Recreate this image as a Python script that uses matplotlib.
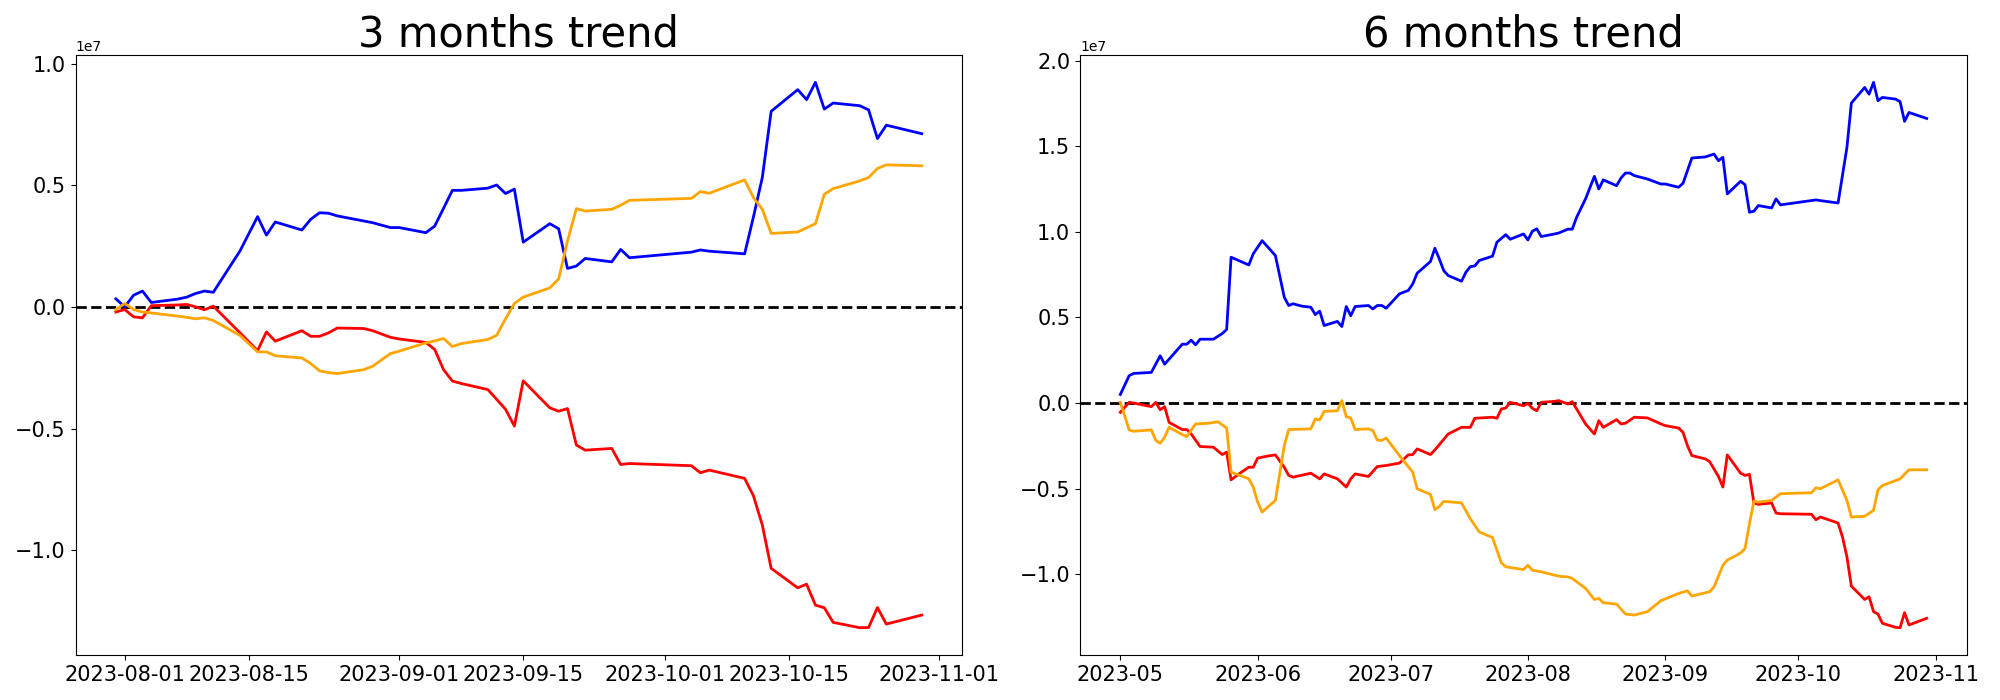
import matplotlib
matplotlib.use("Agg")
import matplotlib.pyplot as plt
import pandas as pd

SCALE = 1e7

# ---- 3 months trend: (date, value in units of 1e7) ----
BLUE_3M = [("2023-07-31", 0.033), ("2023-08-01", 0.0), ("2023-08-02", 0.048), ("2023-08-03", 0.065),
           ("2023-08-04", 0.018), ("2023-08-07", 0.032), ("2023-08-08", 0.040), ("2023-08-09", 0.055),
           ("2023-08-10", 0.065), ("2023-08-11", 0.060), ("2023-08-14", 0.229), ("2023-08-16", 0.371),
           ("2023-08-17", 0.295), ("2023-08-18", 0.349), ("2023-08-21", 0.316), ("2023-08-22", 0.360),
           ("2023-08-23", 0.387), ("2023-08-24", 0.385), ("2023-08-25", 0.374), ("2023-08-28", 0.353),
           ("2023-08-29", 0.346), ("2023-08-31", 0.326), ("2023-09-01", 0.326), ("2023-09-04", 0.305),
           ("2023-09-05", 0.332), ("2023-09-06", 0.405), ("2023-09-07", 0.479), ("2023-09-08", 0.479),
           ("2023-09-11", 0.488), ("2023-09-12", 0.501), ("2023-09-13", 0.466), ("2023-09-14", 0.484),
           ("2023-09-15", 0.266), ("2023-09-18", 0.342), ("2023-09-19", 0.321), ("2023-09-20", 0.158),
           ("2023-09-21", 0.168), ("2023-09-22", 0.199), ("2023-09-25", 0.185), ("2023-09-26", 0.236),
           ("2023-09-27", 0.202), ("2023-10-04", 0.225), ("2023-10-05", 0.234), ("2023-10-06", 0.229),
           ("2023-10-10", 0.218), ("2023-10-11", 0.370), ("2023-10-12", 0.532), ("2023-10-13", 0.804),
           ("2023-10-16", 0.893), ("2023-10-17", 0.852), ("2023-10-18", 0.923), ("2023-10-19", 0.813),
           ("2023-10-20", 0.838), ("2023-10-23", 0.827), ("2023-10-24", 0.810), ("2023-10-25", 0.692),
           ("2023-10-26", 0.747), ("2023-10-30", 0.712)]

RED_3M = [("2023-07-31", -0.021), ("2023-08-01", -0.011), ("2023-08-02", -0.041), ("2023-08-03", -0.045),
          ("2023-08-04", 0.005), ("2023-08-07", 0.008), ("2023-08-08", 0.010), ("2023-08-09", 0.0),
          ("2023-08-10", -0.012), ("2023-08-11", 0.003), ("2023-08-14", -0.106), ("2023-08-16", -0.180),
          ("2023-08-17", -0.103), ("2023-08-18", -0.141), ("2023-08-21", -0.098), ("2023-08-22", -0.121),
          ("2023-08-23", -0.121), ("2023-08-24", -0.107), ("2023-08-25", -0.087), ("2023-08-28", -0.089),
          ("2023-08-29", -0.098), ("2023-08-31", -0.125), ("2023-09-01", -0.132), ("2023-09-04", -0.146),
          ("2023-09-05", -0.175), ("2023-09-06", -0.258), ("2023-09-07", -0.305), ("2023-09-08", -0.315),
          ("2023-09-11", -0.340), ("2023-09-12", -0.380), ("2023-09-13", -0.421), ("2023-09-14", -0.490),
          ("2023-09-15", -0.304), ("2023-09-18", -0.415), ("2023-09-19", -0.429), ("2023-09-20", -0.418),
          ("2023-09-21", -0.568), ("2023-09-22", -0.589), ("2023-09-25", -0.582), ("2023-09-26", -0.648),
          ("2023-09-27", -0.644), ("2023-10-04", -0.653), ("2023-10-05", -0.682), ("2023-10-06", -0.671),
          ("2023-10-10", -0.705), ("2023-10-11", -0.777), ("2023-10-12", -0.897), ("2023-10-13", -1.075),
          ("2023-10-16", -1.155), ("2023-10-17", -1.140), ("2023-10-18", -1.226), ("2023-10-19", -1.237),
          ("2023-10-20", -1.297), ("2023-10-23", -1.319), ("2023-10-24", -1.318), ("2023-10-25", -1.236),
          ("2023-10-26", -1.304), ("2023-10-30", -1.267)]

ORANGE_3M = [("2023-07-31", -0.011), ("2023-08-01", 0.014), ("2023-08-02", -0.011), ("2023-08-03", -0.021),
             ("2023-08-04", -0.025), ("2023-08-07", -0.038), ("2023-08-08", -0.043), ("2023-08-09", -0.049),
             ("2023-08-10", -0.045), ("2023-08-11", -0.056), ("2023-08-14", -0.117), ("2023-08-16", -0.185),
             ("2023-08-17", -0.185), ("2023-08-18", -0.201), ("2023-08-21", -0.210), ("2023-08-22", -0.233),
             ("2023-08-23", -0.263), ("2023-08-24", -0.270), ("2023-08-25", -0.274), ("2023-08-28", -0.258),
             ("2023-08-29", -0.244), ("2023-08-31", -0.192), ("2023-09-01", -0.182), ("2023-09-04", -0.148),
             ("2023-09-05", -0.140), ("2023-09-06", -0.130), ("2023-09-07", -0.163), ("2023-09-08", -0.151),
             ("2023-09-11", -0.134), ("2023-09-12", -0.117), ("2023-09-13", -0.049), ("2023-09-14", 0.014),
             ("2023-09-15", 0.040), ("2023-09-18", 0.078), ("2023-09-19", 0.115), ("2023-09-20", 0.271),
             ("2023-09-21", 0.404), ("2023-09-22", 0.394), ("2023-09-25", 0.401), ("2023-09-26", 0.418),
             ("2023-09-27", 0.438), ("2023-10-04", 0.446), ("2023-10-05", 0.474), ("2023-10-06", 0.467),
             ("2023-10-10", 0.522), ("2023-10-11", 0.449), ("2023-10-12", 0.401), ("2023-10-13", 0.302),
             ("2023-10-16", 0.308), ("2023-10-17", 0.325), ("2023-10-18", 0.342), ("2023-10-19", 0.463),
             ("2023-10-20", 0.486), ("2023-10-23", 0.518), ("2023-10-24", 0.532), ("2023-10-25", 0.569),
             ("2023-10-26", 0.584), ("2023-10-30", 0.580)]

# ---- 6 months trend: (days since START_6M, value in units of 1e7) ----
START_6M = "2023-05-01"
BLUE_6M = [(0, 0.05), (2, 0.16), (3, 0.173), (7, 0.179), (9, 0.276), (10, 0.227), (14, 0.344), (15, 0.344),
           (16, 0.367), (17, 0.34), (18, 0.373), (21, 0.373), (23, 0.406), (24, 0.43), (25, 0.852), (29, 0.807),
           (30, 0.872), (32, 0.949), (35, 0.862), (37, 0.619), (38, 0.570), (39, 0.580), (41, 0.566), (43, 0.56),
           (44, 0.517), (45, 0.537), (46, 0.453), (49, 0.477), (50, 0.447), (51, 0.564), (52, 0.51), (53, 0.564),
           (56, 0.570), (57, 0.55), (58, 0.57), (59, 0.57), (60, 0.554), (63, 0.638), (65, 0.658), (66, 0.696),
           (67, 0.759), (70, 0.827), (71, 0.905), (72, 0.842), (73, 0.774), (74, 0.745), (77, 0.712), (78, 0.764),
           (79, 0.797), (80, 0.801), (81, 0.833), (84, 0.858), (85, 0.940), (87, 0.984), (88, 0.957), (91, 0.988),
           (92, 0.953), (93, 1.004), (94, 1.018), (95, 0.973), (98, 0.988), (99, 0.994), (101, 1.016), (102, 1.016),
           (103, 1.086), (105, 1.193), (107, 1.325), (108, 1.251), (109, 1.304), (112, 1.270), (113, 1.315),
           (114, 1.344), (115, 1.344), (116, 1.329), (119, 1.309), (122, 1.280), (123, 1.280), (126, 1.261),
           (127, 1.284), (128, 1.358), (129, 1.432), (132, 1.438), (134, 1.455), (135, 1.416), (136, 1.436),
           (137, 1.222), (140, 1.296), (141, 1.276), (142, 1.115), (143, 1.121), (144, 1.154), (147, 1.140),
           (148, 1.193), (149, 1.158), (157, 1.187), (158, 1.183), (162, 1.169), (164, 1.494), (165, 1.753),
           (168, 1.844), (169, 1.805), (170, 1.874), (171, 1.767), (172, 1.786), (175, 1.776), (176, 1.761),
           (177, 1.646), (178, 1.698), (182, 1.663)]

RED_6M = [(0, -0.054), (2, 0.004), (3, 0.0), (6, -0.016), (7, -0.021), (8, 0.004), (9, -0.039), (10, -0.021),
          (11, -0.113), (14, -0.155), (15, -0.155), (16, -0.181), (18, -0.254), (21, -0.258), (23, -0.301),
          (24, -0.287), (25, -0.449), (27, -0.410), (29, -0.375), (30, -0.375), (31, -0.322), (33, -0.311),
          (35, -0.303), (37, -0.375), (38, -0.423), (39, -0.433), (43, -0.410), (45, -0.443), (46, -0.414),
          (49, -0.443), (51, -0.491), (52, -0.443), (53, -0.414), (56, -0.429), (58, -0.371), (60, -0.365),
          (63, -0.351), (65, -0.303), (66, -0.301), (67, -0.268), (70, -0.301), (71, -0.274), (74, -0.181),
          (77, -0.142), (79, -0.142), (80, -0.089), (84, -0.083), (85, -0.089), (86, -0.035), (87, -0.029),
          (88, 0.004), (91, -0.016), (92, -0.002), (93, -0.031), (94, -0.045), (95, 0.004), (98, 0.01),
          (99, 0.014), (101, -0.006), (102, 0.008), (105, -0.122), (107, -0.181), (108, -0.103), (109, -0.142),
          (112, -0.097), (113, -0.122), (114, -0.118), (116, -0.083), (119, -0.087), (122, -0.122), (123, -0.132),
          (126, -0.146), (127, -0.171), (128, -0.249), (129, -0.307), (132, -0.326), (133, -0.342), (135, -0.429),
          (136, -0.491), (137, -0.303), (140, -0.410), (141, -0.423), (142, -0.417), (143, -0.583), (144, -0.592),
          (147, -0.584), (148, -0.643), (149, -0.647), (156, -0.650), (157, -0.682), (158, -0.666), (162, -0.701),
          (163, -0.783), (164, -0.899), (165, -1.070), (168, -1.148), (169, -1.132), (170, -1.219), (171, -1.233),
          (172, -1.287), (175, -1.311), (176, -1.313), (177, -1.225), (178, -1.297), (182, -1.258)]

ORANGE_6M = [(0, 0.004), (2, -0.157), (3, -0.165), (7, -0.157), (8, -0.219), (9, -0.235), (10, -0.2),
             (11, -0.142), (14, -0.184), (15, -0.196), (17, -0.122), (20, -0.118), (22, -0.109), (24, -0.146),
             (25, -0.404), (28, -0.433), (29, -0.443), (30, -0.491), (31, -0.579), (32, -0.637), (35, -0.569),
             (37, -0.249), (38, -0.155), (43, -0.151), (44, -0.093), (45, -0.099), (46, -0.049), (49, -0.045),
             (50, 0.014), (51, -0.08), (52, -0.087), (53, -0.155), (56, -0.151), (57, -0.161), (58, -0.216),
             (59, -0.219), (60, -0.204), (63, -0.307), (66, -0.404), (67, -0.501), (70, -0.534), (71, -0.623),
             (72, -0.604), (73, -0.575), (77, -0.583), (79, -0.676), (81, -0.753), (84, -0.786), (86, -0.934),
             (87, -0.957), (91, -0.973), (92, -0.948), (93, -0.977), (95, -0.986), (98, -1.006), (99, -1.012),
             (101, -1.016), (102, -1.025), (105, -1.083), (107, -1.148), (108, -1.142), (109, -1.167),
             (112, -1.175), (114, -1.233), (116, -1.239), (119, -1.219), (122, -1.155), (126, -1.113),
             (128, -1.097), (129, -1.128), (132, -1.109), (133, -1.103), (134, -1.074), (135, -1.012),
             (136, -0.948), (137, -0.918), (140, -0.876), (141, -0.850), (142, -0.705), (143, -0.573),
             (144, -0.579), (147, -0.569), (149, -0.530), (156, -0.524), (157, -0.495), (158, -0.501),
             (162, -0.449), (164, -0.569), (165, -0.666), (168, -0.662), (170, -0.627), (171, -0.507),
             (172, -0.482), (176, -0.443), (178, -0.390), (182, -0.390)]

TITLES = ["3 months trend", "6 months trend"]
COLORS = ["blue", "red", "orange"]


def series_3m(pairs):
    d, v = zip(*pairs)
    return pd.to_datetime(list(d)), [x * SCALE for x in v]


def series_6m(pairs):
    d, v = zip(*pairs)
    dates = pd.Timestamp(START_6M) + pd.to_timedelta(list(d), unit="D")
    return dates, [x * SCALE for x in v]


fig = plt.figure(figsize=(20, 7), dpi=100)
ax1 = fig.add_axes([0.0378, 0.0643, 0.4432, 0.857])
ax2 = fig.add_axes([0.540, 0.0643, 0.4435, 0.857])

for ax, title, groups, conv in [
    (ax1, TITLES[0], [BLUE_3M, RED_3M, ORANGE_3M], series_3m),
    (ax2, TITLES[1], [BLUE_6M, RED_6M, ORANGE_6M], series_6m),
]:
    for pairs, c in zip(groups, COLORS):
        x, y = conv(pairs)
        ax.plot(x, y, color=c, linewidth=2, zorder=2)
    ax.axhline(0, color="black", linestyle="--", linewidth=2, zorder=1.5)
    ax.set_title(title, fontsize=30)
    ax.tick_params(labelsize=15)

fig.savefig("out.png", dpi=100)
